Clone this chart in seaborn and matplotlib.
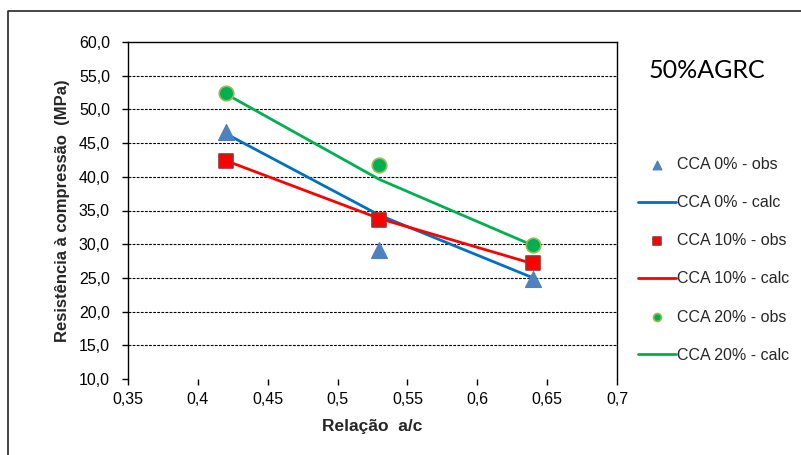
import matplotlib
matplotlib.use("Agg")
import matplotlib.pyplot as plt
from matplotlib.lines import Line2D
from matplotlib.ticker import FuncFormatter, MultipleLocator
import seaborn as sns
import pandas as pd

# Water/cement ratios tested
ac_ratio = [0.42, 0.53, 0.64]

# Observed compressive strength (MPa)
obs_cca0 = [46.6, 29.2, 24.9]
obs_cca10 = [42.4, 33.6, 27.2]
obs_cca20 = [52.5, 41.7, 29.9]

# Calculated compressive strength (MPa)
calc_cca0 = [46.4, 34.3, 25.0]
calc_cca10 = [42.4, 33.8, 27.1]
calc_cca20 = [52.3, 39.6, 29.8]

series_names = ["CCA 0%", "CCA 10%", "CCA 20%"]
obs_values = [obs_cca0, obs_cca10, obs_cca20]
calc_values = [calc_cca0, calc_cca10, calc_cca20]

sns.set_theme(style="white")
plt.rcParams["font.family"] = ["Liberation Sans", "DejaVu Sans"]

fig = plt.figure(figsize=(8.01, 4.55), dpi=100)
W, H = 801, 455
ax = fig.add_axes([128 / W, 1 - 379 / H, (617 - 128) / W, (379 - 42) / H])

marker_styles = [
    dict(marker="^", color="#4F81BD", edgecolor="#4F81BD", s=130),
    dict(marker="s", color="#FF0000", edgecolor="#A0302C", s=110, linewidth=1.2),
    dict(marker="o", color="#00B050", edgecolor="#9BBB59", s=110, linewidth=1.2),
]
line_colors = ["#0070C0", "#FF0000", "#00B050"]

for name, obs, calc, mstyle, lcolor in zip(series_names, obs_values, calc_values,
                                           marker_styles, line_colors):
    df_obs = pd.DataFrame({"ac": ac_ratio, "fc": obs})
    df_calc = pd.DataFrame({"ac": ac_ratio, "fc": calc})
    sns.lineplot(data=df_calc, x="ac", y="fc", color=lcolor, linewidth=2.0,
                 label=f"{name} - calc", ax=ax, zorder=3)
    sns.scatterplot(data=df_obs, x="ac", y="fc", label=f"{name} - obs",
                    ax=ax, zorder=4, **mstyle)

ax.set_xlim(0.35, 0.70)
ax.set_ylim(10, 60)
ax.xaxis.set_major_locator(MultipleLocator(0.05))
ax.yaxis.set_major_locator(MultipleLocator(5))

def comma_x(v, pos):
    s = f"{v:.2f}".rstrip("0")
    return s.replace(".", ",")

ax.xaxis.set_major_formatter(FuncFormatter(comma_x))
ax.yaxis.set_major_formatter(FuncFormatter(lambda v, p: f"{v:.1f}".replace(".", ",")))

# dotted horizontal gridlines (inner values only)
for yv in range(15, 60, 5):
    ax.axhline(yv, color="black", linewidth=0.8, linestyle=(0, (2.5, 1.2)), zorder=1)

for side in ["left", "right", "top"]:
    ax.spines[side].set_visible(True)
    ax.spines[side].set_color("black")
    ax.spines[side].set_linewidth(1.0)
ax.spines["bottom"].set_visible(False)

ax.tick_params(axis="both", which="both", direction="out", length=4, width=1,
               color="black", labelsize=11.5, labelcolor="black",
               bottom=True, left=True)
ax.tick_params(axis="x", pad=5)
ax.tick_params(axis="y", pad=9)

ax.set_xlabel("Relação  a/c", fontsize=12.5, fontweight="bold", labelpad=9)
ax.set_ylabel("Resistência à compressão  (MPa)", fontsize=12, fontweight="bold",
              labelpad=6)

# legend ordered as obs / calc for each series
handles, labels = ax.get_legend_handles_labels()
order = []
for name in series_names:
    order.append(labels.index(f"{name} - obs"))
    order.append(labels.index(f"{name} - calc"))
leg = ax.legend([handles[i] for i in order], [labels[i] for i in order],
                loc="upper left", bbox_to_anchor=(638 / W, 1 - 157 / H),
                bbox_transform=fig.transFigure, frameon=False, fontsize=11.5,
                labelspacing=1.45, handlelength=2.35, handletextpad=0.12,
                markerscale=0.55, borderaxespad=0, borderpad=0)

fig.text(707 / W, 1 - 70 / H, "50%AGRC", fontsize=18, ha="center", va="center",
         family=["Lato", "DejaVu Sans"], color="black")

# outer chart frame (left and top edges)
fig.add_artist(Line2D([8 / W, 8 / W, 1.0], [0.0, 1 - 11 / H, 1 - 11 / H],
                      transform=fig.transFigure, color="#262626", linewidth=1.2))

fig.savefig("out.png", dpi=100, facecolor="white")
